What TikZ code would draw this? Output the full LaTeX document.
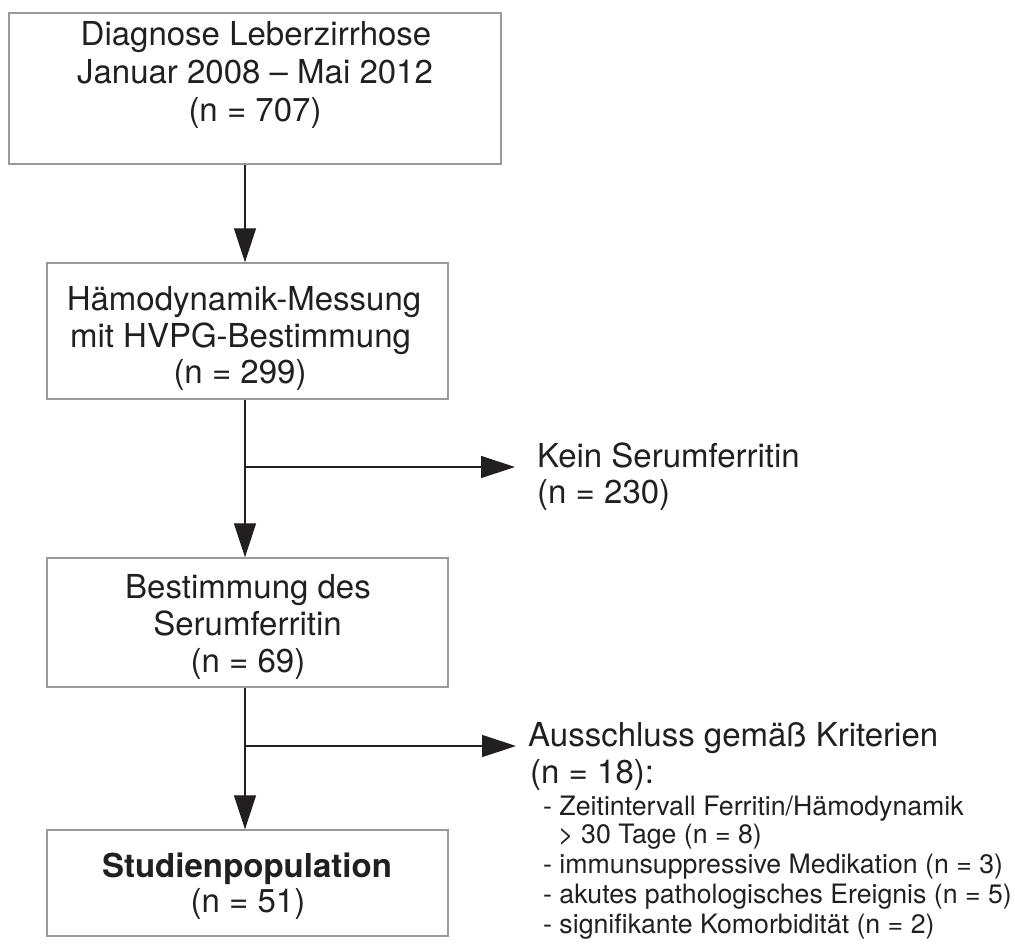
\documentclass[tikz,border=0pt]{standalone}
\usepackage{fontspec}
\setmainfont{TeX Gyre Heros}
\usetikzlibrary{arrows.meta}
\definecolor{ink}{HTML}{231F20}
\definecolor{frame}{HTML}{9A9A9A}
\tikzset{
  boxnode/.style={draw=frame, line width=1.4pt, rectangle, inner sep=0pt},
  big/.style={font=\fontsize{33}{37}\selectfont, text=ink, inner sep=0pt},
  small/.style={font=\fontsize{26.7}{29.5}\selectfont, text=ink, inner sep=0pt},
  arr/.style={draw=ink, line width=1.3pt, -{Triangle[length=34pt,width=22pt]}},
}
\begin{document}
\begin{tikzpicture}[x=1pt,y=-1pt]
\useasboundingbox (0,0) rectangle (1015,943);
% boxes
\node[boxnode, minimum width=492pt, minimum height=151pt] (b1) at (255,88.5) {};
\node[boxnode, minimum width=401pt, minimum height=136pt] (b2) at (247.5,331) {};
\node[boxnode, minimum width=401pt, minimum height=129pt] (b3) at (247.5,622.5) {};
\node[boxnode, minimum width=401pt, minimum height=106pt] (b4) at (247.5,883) {};
% box texts
\node[big, anchor=base] (t11) at (256,45) {Diagnose Leberzirrhose};
\node[big, anchor=base] (t12) at (255,83) {Januar 2008 – Mai 2012};
\node[big, anchor=base] (t13) at (255,121) {(n = 707)};
\node[big, anchor=base] (t21) at (244,310) {Hämodynamik-Messung};
\node[big, anchor=base] (t22) at (240.5,347) {mit HVPG-Bestimmung};
\node[big, anchor=base] (t23) at (240,383) {(n = 299)};
\node[big, anchor=base] (t31) at (248,598) {Bestimmung des};
\node[big, anchor=base] (t32) at (247.5,635) {Serumferritin};
\node[big, anchor=base] (t33) at (248,672) {(n = 69)};
\node[big, anchor=base, font=\fontsize{33}{37}\selectfont\bfseries] (t41) at (247,877) {Studienpopulation};
\node[big, anchor=base] (t42) at (248,912) {(n = 51)};
% side texts
\node[big, anchor=base west] (k1) at (537,467) {Kein Serumferritin};
\node[big, anchor=base west] (k2) at (537,503) {(n = 230)};
\node[big, anchor=base west] (a1) at (528,746) {Ausschluss gemäß Kriterien};
\node[big, anchor=base west] (a2) at (530,783) {(n = 18):};
\node[small, anchor=base west] (l1) at (543,815) {- Zeitintervall Ferritin/Hämodynamik};
\node[small, anchor=base west] (l2) at (558,843) {> 30 Tage (n = 8)};
\node[small, anchor=base west] (l3) at (543,873) {- immunsuppressive Medikation (n = 3)};
\node[small, anchor=base west] (l4) at (543,903) {- akutes pathologisches Ereignis (n = 5)};
\node[small, anchor=base west] (l5) at (543,933) {- signifikante Komorbidität (n = 2)};
% connectors
\coordinate (spine) at (245,0);
\coordinate (j1) at (245,467);
\coordinate (e1) at (515,467);
\coordinate (j2) at (245,746);
\coordinate (e2) at (516,746);
\draw[arr] (b1.south -| spine) -- (b2.north -| spine);
\draw[arr] (b2.south -| spine) -- (b3.north -| spine);
\draw[arr] (b3.south -| spine) -- (b4.north -| spine);
\draw[arr] (j1) -- (e1);
\draw[arr] (j2) -- (e2);
\end{tikzpicture}
\end{document}
